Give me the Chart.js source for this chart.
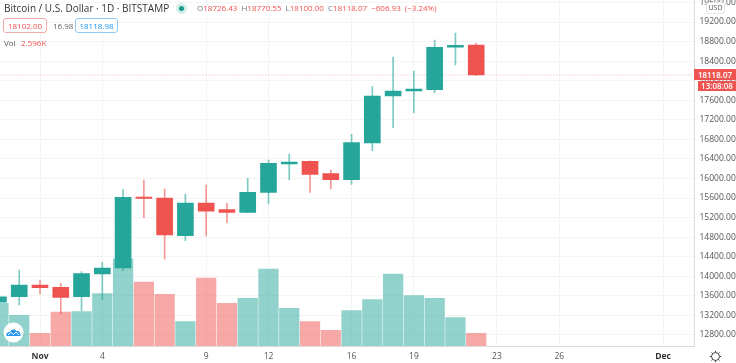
<!DOCTYPE html>
<html>
<head>
<meta charset="utf-8">
<title>BTCUSD</title>
<script src="https://cdn.jsdelivr.net/npm/chart.js@4"></script>
<style>
  html, body { margin: 0; padding: 0; background: #fff; }
  #wrap { position: relative; width: 736px; height: 363px; overflow: hidden; font-family: "Open Sans", sans-serif; }
  #chart { position: absolute; left: 0; top: 0; }
  .t { position: absolute; white-space: nowrap; font-size: 8px; line-height: 14px; }
  .box { position: absolute; box-sizing: border-box; height: 15px; line-height: 13px; font-size: 8px; text-align: center; border-radius: 3px; background: #fff; }
  .tag { position: absolute; background: #ef5350; color: #fff; font-size: 8px; font-weight: 600; text-align: center; }
</style>
</head>
<body>
<div id="wrap">
  <canvas id="chart" width="736" height="363"></canvas>

  <div class="t" style="left:4px;top:1px;font-size:10px;color:#333">Bitcoin / U.S. Dollar · 1D · BITSTAMP</div>
  <div style="position:absolute;left:176px;top:3px;width:11px;height:11px;border-radius:50%;background:#d7efec"></div>
  <div style="position:absolute;left:179px;top:6px;width:5px;height:5px;border-radius:50%;background:#1a9a8c"></div>
  <div class="t" style="left:197px;top:1px;color:#ef5350;word-spacing:2px"><span style="color:#777">O</span>18726.43 <span style="color:#777">H</span>18770.55 <span style="color:#777">L</span>18100.00 <span style="color:#777">C</span>18118.07 −606.93 (−3.24%)</div>

  <div class="box" style="left:3px;top:18px;width:44px;border:1px solid #f7a9a7;color:#ef5350">18102.00</div>
  <div class="t" style="left:53px;top:19px;color:#666">16.98</div>
  <div class="box" style="left:75px;top:18px;width:43px;border:1px solid #90caf9;color:#2196f3">18118.98</div>

  <div class="t" style="left:4px;top:36px;color:#555">Vol</div>
  <div class="t" style="left:21px;top:36px;color:#ef5350">2.596K</div>

  <div class="tag" style="left:694px;top:69px;width:42px;height:11px;line-height:11px">18118.07</div>
  <div class="tag" style="left:698px;top:81px;width:38px;height:10px;line-height:10px">13:08:08</div>

  <div class="t" style="left:706px;top:2px;width:17px;height:10px;line-height:10px;background:#fff;border:1px solid #e6e6e6;border-radius:3px;font-size:7px;text-align:center;color:#555">USD</div>

  <svg style="position:absolute;left:3px;top:322px" width="21" height="21" viewBox="0 0 21 21">
    <circle cx="10.5" cy="10.5" r="10" fill="#fff"/>
    <path d="M3.5 14 C3 10.5 5.5 9.5 7 10 C8 7 12 6.5 13.5 9 C16 8.5 18 11 17.5 14 Z" fill="#2196f3"/>
    <path d="M5 13 L8 10.5 L10.5 12.5 L13 10 L16 13" fill="none" stroke="#fff" stroke-width="1"/>
  </svg>

  <svg style="position:absolute;left:709px;top:350px" width="13" height="13" viewBox="0 0 13 13">
    <circle cx="6.5" cy="6.5" r="4" fill="none" stroke="#444" stroke-width="1"/>
    <path d="M6.5 .8V2.5M6.5 10.5V12.2M.8 6.5H2.5M10.5 6.5H12.2M2.5 2.5L3.7 3.7M9.3 9.3L10.5 10.5M10.5 2.5L9.3 3.7M3.7 9.3L2.5 10.5" stroke="#444" stroke-width="1"/>
  </svg>
</div>

<script>
// day of November, -1 and 0 are the last days of October
const days = [-1, 0, 1, 2, 3, 4, 5, 6, 7, 8, 9, 10, 11, 12, 13, 14, 15, 16, 17, 18, 19, 20, 21, 22];
const opens = [13468, 13582, 13822, 13775, 13582, 14047, 14169, 15620, 15600, 14830, 15499, 15362, 15308, 15717, 16300, 16351, 16098, 15975, 16726, 17687, 17789, 17816, 18683, 18726.43];
const highs = [13650, 14128, 13924, 13856, 14094, 14286, 15779, 15969, 15785, 15683, 15867, 15492, 16004, 16378, 16501, 16360, 16173, 16903, 17877, 18484, 18198, 18832, 18975, 18770.55];
const lows = [13400, 13413, 13638, 13229, 13290, 13529, 14114, 15198, 14353, 14728, 14824, 15096, 15294, 15478, 15969, 15717, 15785, 15881, 16568, 17038, 17345, 17754, 18321, 18100];
const closes = [13582, 13822, 13766, 13570, 14053, 14169, 15615, 15590, 14844, 15499, 15329, 15308, 15717, 16310, 16337, 16085, 15975, 16732, 17687, 17789, 17830, 18683, 18724, 18118.07];
const volumes = [8.73, 6.27, 2.6, 6.95, 7.03, 10.71, 17.86, 13.08, 10.57, 4.99, 13.9, 8.73, 9.75, 15.74, 7.71, 4.99, 3.21, 7.24, 9.48, 14.72, 10.3, 9.75, 5.8, 2.596];

const xTickDays = [1, 4, 9, 12, 16, 19, 23, 26, 31];
const xTickLabels = ['Nov', '4', '9', '12', '16', '19', '23', '26', 'Dec'];
const yTicks = [12800, 13200, 13600, 14000, 14400, 14800, 15200, 15600, 16000, 16400, 16800, 17200, 17600, 18000, 18400, 18800, 19200, 19600];
const lastPrice = 18118.07;

const GREEN = '#26a69a';
const RED = '#ef5350';
const GREEN_VOL = 'rgba(38,166,154,0.5)';
const RED_VOL = 'rgba(239,83,80,0.5)';
const WICK_GREEN = 'rgba(38,166,154,0.6)';
const WICK_RED = 'rgba(239,83,80,0.6)';
const GRID = '#f4f4f4';

const isUp = days.map((d, i) => closes[i] >= opens[i]);
// month names are bold on the time axis
const isMonth = ctx => !!ctx.tick && (ctx.tick.value === 1 || ctx.tick.value === 31);
// labels may stick out, the plot still has to fill the whole canvas
const noLabelPadding = scale => {
  scale.paddingTop = 0;
  scale.paddingBottom = 0;
  scale.paddingLeft = 0;
  scale.paddingRight = 0;
};

new Chart(document.getElementById('chart'), {
  data: {
    datasets: [
      {
        type: 'line',
        data: [{ x: -1, y: lastPrice }, { x: 33, y: lastPrice }],
        yAxisID: 'y',
        borderColor: 'rgba(239,83,80,0.45)',
        borderWidth: 1,
        borderDash: [1, 2],
        pointRadius: 0,
        order: 4
      },
      {
        type: 'bar',
        data: days.map((d, i) => ({ x: d, y: [opens[i], closes[i]] })),
        yAxisID: 'y',
        backgroundColor: isUp.map(u => u ? GREEN : RED),
        barThickness: 16,
        grouped: false,
        order: 1
      },
      {
        type: 'bar',
        data: days.map((d, i) => ({ x: d, y: [lows[i], highs[i]] })),
        yAxisID: 'y',
        backgroundColor: isUp.map(u => u ? WICK_GREEN : WICK_RED),
        barThickness: 1,
        grouped: false,
        order: 2
      },
      {
        type: 'bar',
        data: days.map((d, i) => ({ x: d, y: volumes[i] })),
        yAxisID: 'vol',
        backgroundColor: isUp.map(u => u ? GREEN_VOL : RED_VOL),
        barThickness: 19.6,
        grouped: false,
        order: 3
      }
    ]
  },
  options: {
    responsive: false,
    animation: false,
    layout: { padding: 0 },
    plugins: { legend: { display: false }, tooltip: { enabled: false } },
    scales: {
      x: {
        type: 'linear',
        offset: false,
        min: -0.926,
        max: 32.51,
        afterBuildTicks: scale => { scale.ticks = xTickDays.map(v => ({ value: v })); },
        afterFit: scale => { scale.height = 17; noLabelPadding(scale); },
        ticks: {
          autoSkip: false,
          maxRotation: 0,
          padding: 5,
          color: ctx => isMonth(ctx) ? '#333' : '#555',
          font: ctx => ({
            family: '"Open Sans"',
            size: 8.5,
            weight: isMonth(ctx) ? 'bold' : 'normal'
          }),
          callback: v => xTickLabels[xTickDays.indexOf(v)]
        },
        grid: { color: GRID, drawTicks: false, offset: false },
        border: { color: '#dcdcdc' }
      },
      y: {
        position: 'right',
        min: 12574,
        max: 19650,
        afterBuildTicks: scale => { scale.ticks = yTicks.map(v => ({ value: v })); },
        afterFit: scale => { scale.width = 41.5; noLabelPadding(scale); },
        ticks: {
          padding: 5,
          color: '#555',
          font: { family: '"Open Sans"', size: 8.5 },
          callback: v => v.toFixed(2)
        },
        grid: { color: GRID, drawTicks: false },
        border: { color: '#dcdcdc' }
      },
      vol: {
        display: false,
        min: 0,
        max: 70.8,
        afterFit: noLabelPadding
      }
    }
  }
});
</script>
</body>
</html>
